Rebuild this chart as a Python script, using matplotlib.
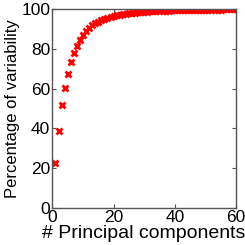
import matplotlib
matplotlib.use("Agg")
import matplotlib.pyplot as plt

# --- Datos: varianza acumulada por número de componentes -----------------------
componentes = list(range(1, 61))
variabilidad = [
    22.5, 38.5, 51.5, 60.5, 67.5, 73.5, 78.0, 81.5, 84.5, 87.0,
    89.0, 90.5, 91.8, 92.8, 93.7, 94.4, 95.0, 95.5, 96.0, 96.4,
    96.8, 97.1, 97.4, 97.6, 97.8, 98.0, 98.2, 98.3, 98.5, 98.6,
    98.7, 98.8, 98.9, 99.0, 99.1, 99.15, 99.2, 99.25, 99.3, 99.35,
    99.4, 99.45, 99.5, 99.52, 99.55, 99.58, 99.6, 99.63, 99.66, 99.68,
    99.7, 99.72, 99.74, 99.76, 99.78, 99.8, 99.82, 99.84, 99.86, 99.88,
]

plt.rcParams["font.family"] = ["Liberation Sans", "DejaVu Sans"]

fig = plt.figure(figsize=(2.45, 2.45), dpi=100)
ax = fig.add_axes([0.214, 0.152, 0.749, 0.811])

ax.plot(componentes, variabilidad, linestyle="none", marker="x",
        color="red", markersize=4.5, markeredgewidth=2)

ax.set_xlim(0, 60)
ax.set_ylim(0, 100)
ax.set_xticks([0, 20, 40, 60])
ax.set_yticks([0, 20, 40, 60, 80, 100])
ax.tick_params(direction="in", length=3, labelsize=12.5, color="#555555",
               top=True, right=True, pad=1.5)
for lado in ax.spines.values():
    lado.set_color("#555555")
    lado.set_linewidth(1)

ax.set_xlabel("# Principal components", fontsize=14, labelpad=0)
ax.set_ylabel("Percentage of variability", fontsize=12, labelpad=1)

fig.savefig("out.png", dpi=100)
